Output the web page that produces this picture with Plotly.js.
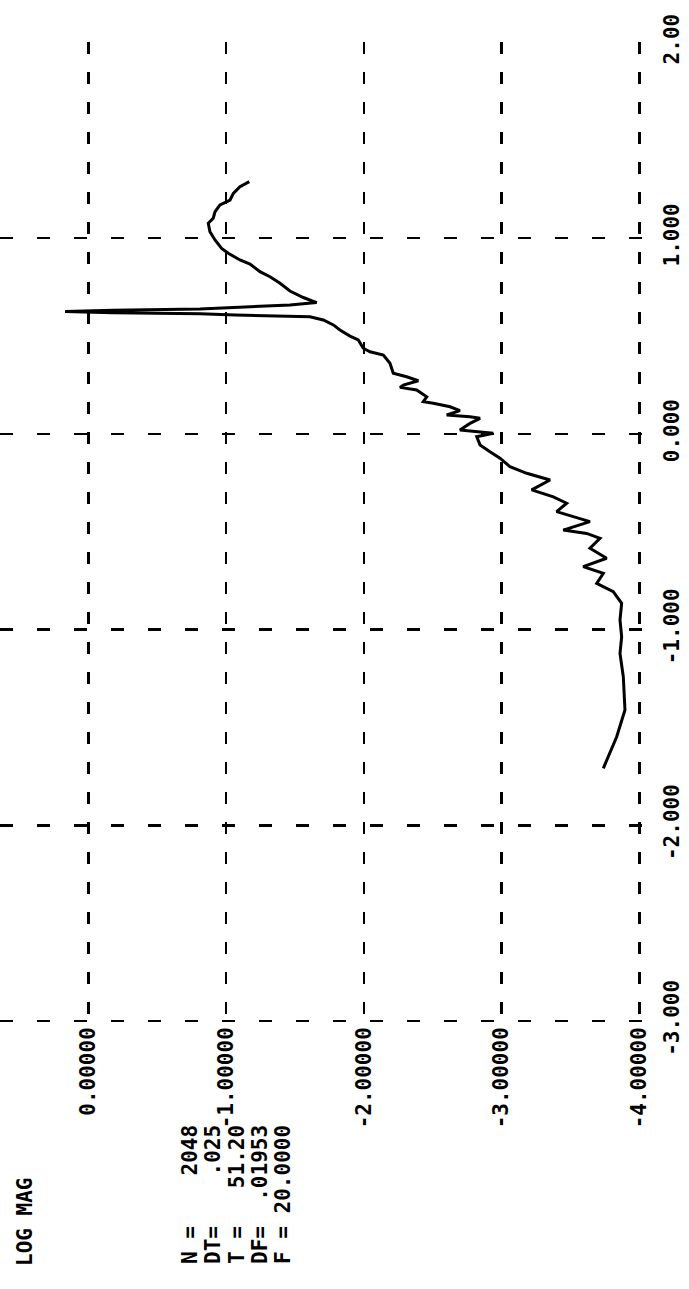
<!DOCTYPE html>
<html>
<head>
<meta charset="utf-8">
<script src="https://cdn.plot.ly/plotly-3.0.1.min.js"></script>
<style>html,body{margin:0;padding:0;background:#fff;}#chart{width:689px;height:1289px;}</style>
</head>
<body>
<div id="chart"></div>
<script>
// Log frequency (plotted vertically, chart is rotated 90°)
const logFreq = [1.288,1.262,1.228,1.194,1.169,1.134,1.101,1.075,1.032,0.990,
  0.947,0.922,0.888,0.867,0.828,0.802,0.769,0.729,0.696,0.670,
  0.658,0.648,0.637,0.631,0.624,0.618,0.613,0.607,0.601,0.598,
  0.581,0.556,0.530,0.499,0.479,0.437,0.419,0.402,0.360,0.309,
  0.291,0.271,0.249,0.237,0.224,0.189,0.164,0.156,0.138,0.118,
  0.096,0.087,0.079,0.053,0.019,0.011,0.002,-0.015,-0.057,-0.092,
  -0.125,-0.168,-0.202,-0.236,-0.287,-0.322,-0.355,-0.398,-0.449,-0.492,
  -0.509,-0.534,-0.585,-0.636,-0.679,-0.713,-0.764,-0.807,-0.866,-0.951,
  -1.037,-1.122,-1.241,-1.411,-1.548,-1.709];
// Log magnitude (plotted horizontally, reversed)
const logMag = [-1.169,-1.101,-1.053,-1.029,-0.956,-0.920,-0.907,-0.871,-0.883,-0.920,
  -0.968,-1.016,-1.101,-1.174,-1.246,-1.319,-1.392,-1.464,-1.561,-1.658,
  -1.464,-1.174,-0.811,-0.179,0.169,-0.179,-0.811,-1.065,-1.416,-1.609,
  -1.706,-1.779,-1.827,-1.900,-1.960,-1.996,-2.045,-2.142,-2.190,-2.214,
  -2.311,-2.396,-2.287,-2.263,-2.384,-2.457,-2.432,-2.505,-2.626,-2.698,
  -2.602,-2.771,-2.844,-2.771,-2.698,-2.844,-2.940,-2.820,-2.844,-2.916,
  -2.989,-3.061,-3.183,-3.352,-3.219,-3.376,-3.473,-3.400,-3.642,-3.448,
  -3.618,-3.715,-3.642,-3.763,-3.593,-3.739,-3.691,-3.811,-3.872,-3.860,
  -3.872,-3.860,-3.884,-3.896,-3.836,-3.739];

const magTicks = [0, -1, -2, -3, -4];
const magTickText = ["0.00000", "-1.00000", "-2.00000", "-3.00000", "-4.00000"];
const freqGrid = [-3, -2, -1, 0, 1];
const freqTicks = [-3, -2, -1, 0, 1, 2];
const freqTickText = ["-3.000", "-2.000", "-1.000", "0.000", "1.000", "2.00"];

const infoLines = ["N =\u00a0\u00a0\u00a0\u00a02048", "DT=\u00a0\u00a0\u00a0\u00a0.025", "T =\u00a0\u00a0\u00a051.20", "DF=\u00a0\u00a0.01953", "F = 20.0000"];
const titleText = "LOG MAG";

const FONT = {family: "DejaVu Sans Mono", size: 21, color: "#000", weight: "bold"};

// layout geometry
const W = 689, H = 1289;
const L = 0, R = 46, T = 42, B = 265;
const plotW = W - L - R, plotH = H - T - B;
const px2paperX = px => (px - L) / plotW;
const py2paperY = py => (H - B - py) / plotH;

const infoX = [190, 213, 237, 260, 283];
const annotations = infoLines.map((t, i) => ({
  text: t, xref: "paper", yref: "paper",
  x: px2paperX(infoX[i]), y: py2paperY(1195),
  xanchor: "center", yanchor: "middle", textangle: -90,
  showarrow: false, font: FONT
}));
annotations.push({
  text: titleText, xref: "paper", yref: "paper",
  x: px2paperX(25), y: py2paperY(1222),
  xanchor: "center", yanchor: "middle", textangle: -90,
  showarrow: false, font: FONT
});

const xRange = [0.641, -4.027];
const yRange = [-3.0153, 2.0013];

const data = [{
  type: "scatter", mode: "lines",
  x: logMag, y: logFreq,
  line: {color: "#000", width: 3},
  hoverinfo: "skip"
}];

const layout = {
  width: W, height: H, autosize: false,
  margin: {l: L, r: R, t: T, b: B, pad: 0},
  paper_bgcolor: "#fff", plot_bgcolor: "#fff",
  showlegend: false,
  xaxis: {
    range: xRange, tickmode: "array", tickvals: magTicks, ticktext: magTickText,
    showgrid: true, gridcolor: "#000", gridwidth: 2.5, griddash: "12px,18px",
    zeroline: false, showline: false, ticks: "", tickangle: -90,
    tickfont: FONT, ticklabelstandoff: -2, fixedrange: true
  },
  yaxis: {
    range: yRange, tickmode: "array", tickvals: freqGrid,
    showgrid: true, gridcolor: "#000", gridwidth: 2.5, griddash: "13px,24px",
    zeroline: false, showline: false, ticks: "", showticklabels: false, fixedrange: true
  },
  yaxis2: {
    range: yRange, overlaying: "y", side: "right",
    tickmode: "array", tickvals: freqTicks, ticktext: freqTickText,
    showgrid: false, zeroline: false, showline: false, ticks: "",
    tickangle: -90, tickfont: FONT, ticklabelstandoff: 14, fixedrange: true
  },
  annotations: annotations
};

// invisible helper trace so yaxis2 is drawn
data.push({type: "scatter", mode: "none", x: [logMag[0]], y: [logFreq[0]], yaxis: "y2", hoverinfo: "skip", showlegend: false});

Plotly.newPlot("chart", data, layout, {staticPlot: true, displayModeBar: false});
</script>
</body>
</html>
